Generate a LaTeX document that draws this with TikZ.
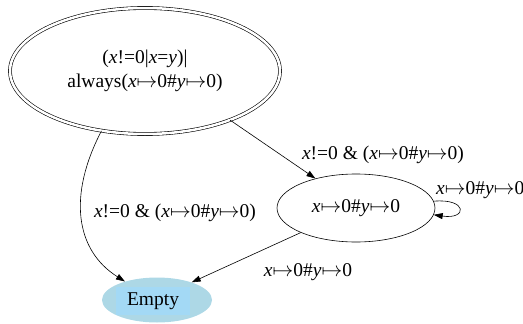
\documentclass[tikz,border=0pt]{standalone}
\usepackage{fontspec}
\setmainfont{Liberation Serif}
\usetikzlibrary{shapes.geometric,arrows.meta}
\newcommand\vx{\textit{x}}
\newcommand\vy{\textit{y}}
\newcommand\mt{$\mapsto$}
\definecolor{empfill}{HTML}{ADD8E6}
\definecolor{txtfill}{HTML}{A3D9F5}
\begin{document}
\begin{tikzpicture}[x=1pt,y=-1pt,font=\fontsize{19.5}{24}\selectfont,
  state/.style={ellipse,draw,line width=0.6pt,inner sep=0pt},
  edge/.style={draw,line width=0.6pt,-{Triangle[length=9pt,width=6pt]}},
  lbl/.style={inner sep=0pt}]
\useasboundingbox (0,0) rectangle (523,324);
\node[state,double,double distance=2.5pt,minimum width=270pt,minimum height=126pt,align=center] (top) at (145,71) {(\vx!=0|\vx=\vy)|\\always(\vx\mt0\#\vy\mt0)};
\node[state,minimum width=158pt,minimum height=68pt] (mid) at (356,208) {\vx\mt0\#\vy\mt0};
\node[ellipse,fill=empfill,minimum width=110pt,minimum height=45pt,inner sep=0pt] (emp) at (157,300) {};
\node[fill=txtfill,minimum width=74pt,minimum height=28pt,inner sep=0pt] (empt) at (153,301) {Empty};
\draw[edge] (top.234) .. controls (68,195) and (75,250) .. (emp.150);
\draw[edge] (top.-30) -- (mid.144);
\draw[edge] (mid.204) -- (emp.27);
\draw[edge] (mid.5) .. controls +(34,-3) and +(34,5) .. (mid.-5);
\node[lbl] (l1) at (175,213) {\vx!=0 \& (\vx\mt0\#\vy\mt0)};
\node[lbl] (l2) at (383,155) {\vx!=0 \& (\vx\mt0\#\vy\mt0)};
\node[lbl,anchor=west] (l3) at (436,190) {\vx\mt0\#\vy\mt0};
\node[lbl] (l4) at (308,272) {\vx\mt0\#\vy\mt0};
\end{tikzpicture}
\end{document}
